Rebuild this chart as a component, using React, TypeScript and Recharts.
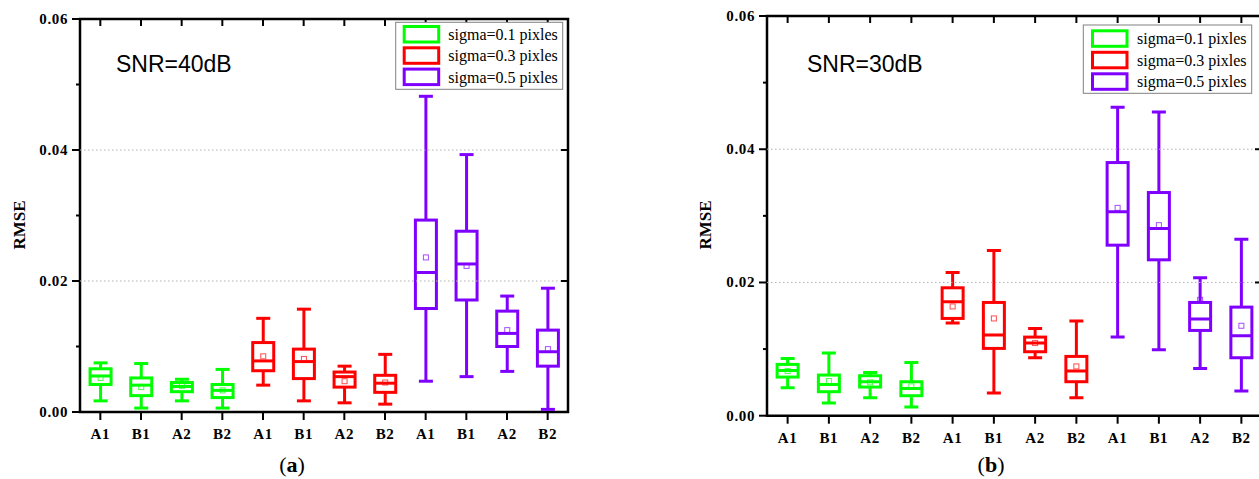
import React from 'react';
import { ComposedChart, Bar, XAxis, YAxis, ReferenceLine, ReferenceArea } from 'recharts';

// ---------- data ----------
const categories = ['A1', 'B1', 'A2', 'B2', 'A1', 'B1', 'A2', 'B2', 'A1', 'B1', 'A2', 'B2'];
const categoryIds = categories.map((_, i) => String(i));
const groupOf = [0, 0, 0, 0, 1, 1, 1, 1, 2, 2, 2, 2];
const groupColors = ['#00FF00', '#FF0000', '#8000FF'];
const legendLabels = ['sigma=0.1 pixles', 'sigma=0.3 pixles', 'sigma=0.5 pixles'];
const yTicks = [0, 0.01, 0.02, 0.03, 0.04, 0.05, 0.06];

// Panel (a) SNR=40dB
const aMin = [0.0017, 0.0006, 0.0017, 0.0006, 0.0041, 0.0017, 0.0014, 0.0012, 0.0047, 0.0054, 0.0062, 0.0004];
const aQ1 = [0.0042, 0.0025, 0.0031, 0.0022, 0.0063, 0.0051, 0.0038, 0.0030, 0.0158, 0.0171, 0.0100, 0.0070];
const aMed = [0.0055, 0.0041, 0.0039, 0.0033, 0.0078, 0.0077, 0.0054, 0.0044, 0.0213, 0.0226, 0.0120, 0.0092];
const aQ3 = [0.0066, 0.0052, 0.0045, 0.0042, 0.0106, 0.0096, 0.0061, 0.0056, 0.0293, 0.0276, 0.0154, 0.0125];
const aMax = [0.0075, 0.0074, 0.0050, 0.0065, 0.0143, 0.0157, 0.0070, 0.0088, 0.0482, 0.0393, 0.0177, 0.0189];
const aMean = [0.0052, 0.0038, 0.0040, 0.0033, 0.0085, 0.0081, 0.0047, 0.0045, 0.0236, 0.0223, 0.0125, 0.0096];

// Panel (b) SNR=30dB
const bMin = [0.0042, 0.0019, 0.0027, 0.0013, 0.0139, 0.0034, 0.0087, 0.0027, 0.0118, 0.0099, 0.0071, 0.0037];
const bQ1 = [0.0058, 0.0036, 0.0043, 0.0030, 0.0146, 0.0101, 0.0096, 0.0051, 0.0256, 0.0234, 0.0128, 0.0087];
const bMed = [0.0068, 0.0047, 0.0051, 0.0041, 0.0171, 0.0121, 0.0109, 0.0067, 0.0306, 0.0281, 0.0145, 0.0120];
const bQ3 = [0.0077, 0.0061, 0.0060, 0.0051, 0.0192, 0.0170, 0.0118, 0.0089, 0.0380, 0.0335, 0.0170, 0.0163];
const bMax = [0.0086, 0.0094, 0.0065, 0.0080, 0.0215, 0.0248, 0.0131, 0.0142, 0.0463, 0.0456, 0.0207, 0.0265];
const bMean = [0.0067, 0.0052, 0.0050, 0.0044, 0.0164, 0.0146, 0.0109, 0.0074, 0.0312, 0.0286, 0.0174, 0.0135];

const buildData = (mn: number[], q1: number[], md: number[], q3: number[], mx: number[], mean: number[]) =>
  categories.map((c, i) => ({
    id: categoryIds[i],
    cat: c,
    range: [mn[i], mx[i]],
    q1: q1[i],
    med: md[i],
    q3: q3[i],
    mean: mean[i],
    color: groupColors[groupOf[i]],
  }));

const dataA = buildData(aMin, aQ1, aMed, aQ3, aMax, aMean);
const dataB = buildData(bMin, bQ1, bMed, bQ3, bMax, bMean);

const SERIF = '"Liberation Serif", "Times New Roman", serif';
const SANS = '"Liberation Sans", Arial, sans-serif';

// ---------- shapes ----------
const BoxShape = (props: any) => {
  const { x, y, width, height, payload } = props;
  if (!payload) return null;
  const [lo, hi] = payload.range;
  const top = Math.min(y, y + height);
  const h = Math.abs(height);
  const py = (v: number) => top + ((hi - v) / (hi - lo)) * h;
  const cx = x + width / 2;
  const c = payload.color;
  const bw = 21;
  const cw = 14;
  const sw = 3;
  const yHi = py(hi);
  const yLo = py(lo);
  const yQ3 = py(payload.q3);
  const yQ1 = py(payload.q1);
  const yMed = py(payload.med);
  const yMean = py(payload.mean);
  return (
    <g>
      <line x1={cx} x2={cx} y1={yHi} y2={yQ3} stroke={c} strokeWidth={sw} />
      <line x1={cx} x2={cx} y1={yQ1} y2={yLo} stroke={c} strokeWidth={sw} />
      <line x1={cx - cw / 2} x2={cx + cw / 2} y1={yHi} y2={yHi} stroke={c} strokeWidth={sw} />
      <line x1={cx - cw / 2} x2={cx + cw / 2} y1={yLo} y2={yLo} stroke={c} strokeWidth={sw} />
      <rect x={cx - bw / 2} y={yQ3} width={bw} height={yQ1 - yQ3} fill="none" stroke={c} strokeWidth={sw} />
      <line x1={cx - bw / 2} x2={cx + bw / 2} y1={yMed} y2={yMed} stroke={c} strokeWidth={sw} />
      <rect x={cx - 2.5} y={yMean - 2.5} width={5} height={5} fill="none" stroke={c} strokeOpacity={0.7} strokeWidth={1} />
    </g>
  );
};

// horizontal reference: y tick marks (left outward, right inward) + dotted grid
const makeHShape = (v: number) => (p: any) => {
  const left = Math.min(p.x1, p.x2);
  const right = Math.max(p.x1, p.x2);
  const y = p.y1;
  const major = Math.round(v * 100) % 2 === 0;
  const inner = major && v > 0 && v < 0.06;
  return (
    <g>
      {inner && <line x1={left} x2={right} y1={y} y2={y} stroke="#b0b0b0" strokeDasharray="1.5 2.5" strokeWidth={1} />}
      <line x1={left - (major ? 8 : 4)} x2={left} y1={y} y2={y} stroke="#000" strokeWidth={2} />
      {inner && <line x1={right - 7} x2={right} y1={y} y2={y} stroke="#000" strokeWidth={2} />}
    </g>
  );
};

// vertical reference: category tick marks (bottom outward, top inward)
const VShape = (p: any) => {
  const top = Math.min(p.y1, p.y2);
  const bottom = Math.max(p.y1, p.y2);
  const x = p.x1;
  return (
    <g>
      <line x1={x} x2={x} y1={bottom} y2={bottom + 8} stroke="#000" strokeWidth={2} />
      <line x1={x} x2={x} y1={top} y2={top + 7} stroke="#000" strokeWidth={2} />
    </g>
  );
};

const LeftTick = (props: any) => {
  const { x, y, payload } = props;
  const v = payload.value;
  const major = Math.round(v * 100) % 2 === 0;
  if (!major) return <g />;
  return (
    <text x={x} y={y + 5} textAnchor="end" fontFamily={SERIF} fontWeight="bold" fontSize={15} fill="#000" letterSpacing={0.6}>
      {v.toFixed(2)}
    </text>
  );
};

const BottomTick = (props: any) => {
  const { x, y, payload } = props;
  return (
    <text x={x} y={y + 19} textAnchor="middle" fontFamily={SERIF} fontWeight="bold" fontSize={15} fill="#000" letterSpacing={0.6}>
      {categories[Number(payload.value)]}
    </text>
  );
};

type PanelProps = { data: any[]; left: number; width: number; top: number; bottom: number };

const Panel = ({ data, left, width, top, bottom }: PanelProps) => (
  <div style={{ position: 'absolute', left, top: 0 }}>
    <ComposedChart width={width} height={479} data={data} margin={{ top, right: 32, bottom, left: 20 }}>
      <XAxis dataKey="id" type="category" height={30} stroke="#000" tickSize={8} tickMargin={0} interval={0} tickLine={false} axisLine={false} tick={<BottomTick />} />
      <YAxis type="number" domain={[0, 0.06]} ticks={yTicks} width={60} stroke="#000" tickSize={7} tickMargin={5} interval={0} tickLine={false} axisLine={false} tick={<LeftTick />} allowDataOverflow />
      {yTicks.map((v) => (
        <ReferenceLine key={'h' + v} y={v} stroke="none" shape={makeHShape(v)} />
      ))}
      {categoryIds.map((id) => (
        <ReferenceLine key={'v' + id} x={id} stroke="none" shape={VShape} />
      ))}
      <Bar dataKey="range" isAnimationActive={false} shape={BoxShape} />
      <ReferenceArea y1={0} y2={0.06} fill="none" fillOpacity={0} stroke="#000" strokeWidth={2.5} />
    </ComposedChart>
  </div>
);

type LegendProps = { x: number; y: number; w: number; h: number; sx: number; sy: number; pitch: number; tx: number };

const LegendBox = ({ x, y, w, h, sx, sy, pitch, tx }: LegendProps) => (
  <g>
    <rect x={x} y={y} width={w} height={h} fill="#fff" stroke="#808080" strokeWidth={1} />
    {legendLabels.map((l, i) => (
      <g key={l}>
        <rect x={sx + 1.5} y={sy + i * pitch + 1.5} width={34.5} height={15.5} fill="#fff" stroke={groupColors[i]} strokeWidth={3} />
        <text x={tx} y={sy + i * pitch + 15} fontFamily={SERIF} fontSize={16} fill="#000">
          {l}
        </text>
      </g>
    ))}
  </g>
);

export default function App() {
  return (
    <div style={{ position: 'absolute', left: 0, top: 0, width: 1259, height: 479, overflow: 'hidden' }}>
      <Panel data={dataA} left={0} width={600} top={19} bottom={37} />
      <Panel data={dataB} left={687} width={607} top={16} bottom={33.3} />
      <svg width={1259} height={479} style={{ position: 'absolute', left: 0, top: 0, pointerEvents: 'none' }}>
        <text x={116} y={72} fontFamily={SANS} fontSize={23} fill="#000">SNR=40dB</text>
        <text x={807} y={72} fontFamily={SANS} fontSize={23} fill="#000">SNR=30dB</text>
        <text transform="translate(25,225) rotate(-90)" textAnchor="middle" fontFamily={SERIF} fontWeight="bold" fontSize={17} fill="#000">RMSE</text>
        <text transform="translate(711,225) rotate(-90)" textAnchor="middle" fontFamily={SERIF} fontWeight="bold" fontSize={17} fill="#000">RMSE</text>
        <text x={292} y={472} textAnchor="middle" fontFamily={SERIF} fontSize={22} fill="#000">
          (<tspan fontWeight="bold">a</tspan>)
        </text>
        <text x={991} y={472} textAnchor="middle" fontFamily={SERIF} fontSize={22} fill="#000">
          (<tspan fontWeight="bold">b</tspan>)
        </text>
        <LegendBox x={395.7} y={22.3} w={167} h={67} sx={402.7} sy={25} pitch={21.3} tx={448.3} />
        <LegendBox x={1083.3} y={25} w={168.4} h={68.3} sx={1091} sy={29.3} pitch={21.5} tx={1137} />
      </svg>
    </div>
  );
}
